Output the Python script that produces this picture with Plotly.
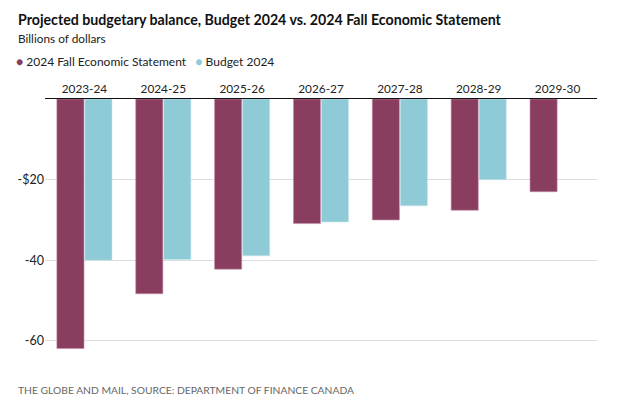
import plotly.graph_objects as go

years = ["2023-24", "2024-25", "2025-26", "2026-27", "2027-28", "2028-29", "2029-30"]
fes_2024 = [-61.9, -48.3, -42.2, -30.9, -30.0, -27.6, -23.0]
budget_2024 = [-40.0, -39.8, -38.9, -30.5, -26.5, -20.0, None]
ytick_vals = [-60, -40, -20]
ytick_text = ["-60", "-40", "-$20"]

FES_COLOR = "#893D5F"
BUD_COLOR = "#8FCBD6"
FONT = "Lato"
W, H = 640, 403
ML, MR, MT, MB = 45, 43, 99, 52
PW = W - ML - MR
PH = H - MT - MB

def px(x):
    return (x - ML) / PW

def py(y):
    return (H - MB - y) / PH

fig = go.Figure()
fig.add_trace(go.Bar(name="2024 Fall Economic Statement", x=years, y=fes_2024,
                     marker=dict(color=FES_COLOR, line=dict(color="#C690AC", width=0.6))))
fig.add_trace(go.Bar(name="Budget 2024", x=years, y=budget_2024,
                     marker=dict(color=BUD_COLOR, line=dict(color="#C9E6EC", width=0.6))))

legend_text = (f"<span style='color:{FES_COLOR}'>●</span> 2024 Fall Economic Statement"
               f"   <span style='color:{BUD_COLOR}'>●</span> Budget 2024")

fig.update_layout(
    width=W, height=H,
    margin=dict(l=ML, r=MR, t=MT, b=MB),
    paper_bgcolor="white", plot_bgcolor="white",
    barmode="group", bargap=0.29, bargroupgap=0.03,
    font=dict(family=FONT, color="#222", size=12),
    showlegend=False,
    xaxis=dict(side="top", showline=True, linecolor="#111", linewidth=1.3,
               ticks="", tickfont=dict(family=FONT, size=11.8, color="#222"),
               showgrid=False, fixedrange=True, automargin=False),
    yaxis=dict(range=[-62.5, 0], tickvals=ytick_vals, ticktext=ytick_text,
               showgrid=True, gridcolor="#dddddd", gridwidth=1, zeroline=False,
               ticks="", tickfont=dict(family=FONT, size=12.5, color="#222"),
               showline=False, fixedrange=True, automargin=False),
    annotations=[
        dict(text="<b>Projected budgetary balance, Budget 2024 vs. 2024 Fall Economic Statement</b>",
             x=px(16), y=py(19), xref="paper", yref="paper", xanchor="left", yanchor="middle",
             showarrow=False, font=dict(family=FONT, size=14.2, color="#111")),
        dict(text="Billions of dollars",
             x=px(16), y=py(39), xref="paper", yref="paper", xanchor="left", yanchor="middle",
             showarrow=False, font=dict(family=FONT, size=11.8, color="#222")),
        dict(text=legend_text,
             x=px(14), y=py(61), xref="paper", yref="paper", xanchor="left", yanchor="middle",
             showarrow=False, font=dict(family=FONT, size=12, color="#222")),
        dict(text="THE GLOBE AND MAIL, SOURCE: DEPARTMENT OF FINANCE CANADA",
             x=px(16), y=py(390), xref="paper", yref="paper", xanchor="left", yanchor="middle",
             showarrow=False, font=dict(family=FONT, size=10.3, color="#666")),
    ],
)

fig.write_html("out.html", config={"displayModeBar": False},
               post_script="document.body.style.margin='0';")
